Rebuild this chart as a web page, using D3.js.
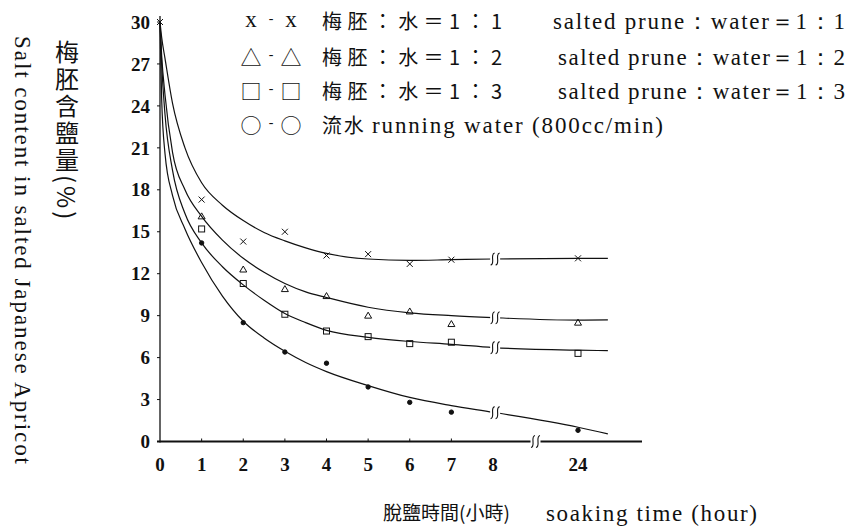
<!DOCTYPE html>
<html lang="zh-Hant">
<head>
<meta charset="utf-8">
<title>梅胚脫鹽</title>
<script src="https://cdn.jsdelivr.net/npm/d3@7"></script>
<style>
  body { margin: 0; background: #fff; }
  svg text { fill: #111; }
</style>
</head>
<body>
<script>
var SERIF = "'Liberation Serif', 'DejaVu Serif', serif"
var CJK = "'Noto Sans CJK TC', 'Noto Sans CJK SC', sans-serif"

// tick labels
var xTickHours = [0, 1, 2, 3, 4, 5, 6, 7, 8, 24]
var yTicks = [0, 3, 6, 9, 12, 15, 18, 21, 24, 27, 30]

// measured points (hours + salt %)
var markHours = [0, 1, 2, 3, 4, 5, 6, 7, 24]
var markRatio1 = [30, 17.3, 14.3, 15.0, 13.3, 13.4, 12.7, 13.0, 13.1]
var markRatio2 = [null, 16.1, 12.3, 10.9, 10.4, 9.0, 9.3, 8.4, 8.5]
var markRatio3 = [null, 15.2, 11.3, 9.1, 7.9, 7.5, 7.0, 7.1, 6.3]
var markRunning = [null, 14.2, 8.5, 6.4, 5.6, 3.9, 2.8, 2.1, 0.8]

// fitted curves
var curveHours = [0, 0.04, 0.12, 0.3, 0.6, 1, 1.5, 2, 2.5, 3, 3.5, 4, 5, 6, 7, 8, 24, 29.6]
var curveRatio1 = [30, 28.9, 27.4, 24.2, 21.0, 18.5, 16.9, 15.8, 14.95, 14.35, 13.85, 13.45, 13.05, 12.95, 13.0, 13.05, 13.1, 13.1]
var curveRatio2 = [30, 27.6, 24.8, 20.7, 18.0, 16.1, 14.4, 13.1, 12.1, 11.3, 10.7, 10.3, 9.6, 9.2, 9.0, 8.86, 8.68, 8.7]
var curveRatio3 = [30, 27.0, 23.4, 19.4, 16.3, 14.2, 12.5, 11.2, 10.1, 9.15, 8.5, 7.95, 7.45, 7.15, 6.95, 6.72, 6.53, 6.5]
var curveRunning = [30, 24.5, 20.6, 17.6, 15.2, 12.8, 10.4, 8.6, 7.4, 6.45, 5.65, 5.0, 4.0, 3.15, 2.57, 2.09, 1.02, 0.55]

var curveBreakHour = 8.4
var axisBreakHour = 16
var axisEndHour = 36

var legendZh = ["梅胚：水＝1：1", "梅胚：水＝1：2", "梅胚：水＝1：3"]
var legendRunning = ["流水 ", "running water (800cc/min)"]
var legendEn = ["salted prune：water＝1：1", "salted prune：water＝1：2", "salted prune：water＝1：3"]
var legendSym = ["x", "△", "□", "○"]

var W = 853, H = 530

// broken time axis: 0-8 h evenly spaced, then a jump to 24 h
var x = d3.scaleLinear().domain([0, 8, 24, axisEndHour]).range([160, 493, 578, 642])
var y = d3.scaleLinear().domain([0, 30]).range([441.5, 22])

var svg = d3.select("body").append("svg")
  .attr("width", W)
  .attr("height", H)

svg.append("rect").attr("width", W).attr("height", H).attr("fill", "white")

// axes
var axisG = svg.append("g")
axisG.append("line")
  .attr("x1", x(0)).attr("x2", x(0))
  .attr("y1", y(0) + 1).attr("y2", y(30) - 6)
  .attr("stroke", "#111").attr("stroke-width", 1.3)
axisG.append("line")
  .attr("x1", x(0) - 3).attr("x2", x(axisEndHour))
  .attr("y1", y(0)).attr("y2", y(0))
  .attr("stroke", "#111").attr("stroke-width", 2.2)

axisG.selectAll(".ytick").data(yTicks).enter().append("line")
  .attr("x1", x(0) - 3).attr("x2", x(0))
  .attr("y1", function(d){ return y(d) }).attr("y2", function(d){ return y(d) })
  .attr("stroke", "#111").attr("stroke-width", 1)

axisG.selectAll(".ylab").data(yTicks).enter().append("text")
  .attr("font-family", SERIF)
  .attr("x", 150)
  .attr("y", function(d){ return y(d) })
  .attr("dy", "0.35em")
  .attr("text-anchor", "end")
  .attr("font-size", 19)
  .attr("font-weight", "bold")
  .text(function(d){ return d })

axisG.selectAll(".xtick").data(xTickHours.filter(function(d){ return d > 0 && d < 8 })).enter().append("line")
  .attr("x1", function(d){ return x(d) }).attr("x2", function(d){ return x(d) })
  .attr("y1", y(0) - 3).attr("y2", y(0))
  .attr("stroke", "#111").attr("stroke-width", 1)

axisG.selectAll(".xlab").data(xTickHours).enter().append("text")
  .attr("font-family", SERIF)
  .attr("x", function(d){ return x(d) })
  .attr("y", 471)
  .attr("text-anchor", "middle")
  .attr("font-size", 19)
  .attr("font-weight", "bold")
  .text(function(d){ return d })

// curves
var line = d3.line()
  .x(function(d){ return x(d[0]) })
  .y(function(d){ return y(d[1]) })
  .curve(d3.curveMonotoneX)

var curves = [curveRatio1, curveRatio2, curveRatio3, curveRunning]
svg.append("g").selectAll("path").data(curves).enter().append("path")
  .attr("d", function(vals){ return line(curveHours.map(function(h, i){ return [h, vals[i]] })) })
  .attr("fill", "none")
  .attr("stroke", "#111")
  .attr("stroke-width", 1.2)

// little "ʃʃ" break marks
function breakMark(g, cx, cy) {
  g.append("rect").attr("x", cx - 5).attr("y", cy - 4).attr("width", 10).attr("height", 8).attr("fill", "white")
  ;[-2.5, 2.5].forEach(function(off){
    var px = cx + off
    g.append("path")
      .attr("d", "M" + (px + 2) + "," + (cy - 6) + " C" + (px - 3) + "," + (cy - 5) + " " + (px + 3) + "," + (cy + 5) + " " + (px - 2) + "," + (cy + 6))
      .attr("fill", "none").attr("stroke", "#111").attr("stroke-width", 1.1)
  })
}
var breaks = svg.append("g")
curves.forEach(function(vals){
  var v = d3.scaleLinear().domain(curveHours).range(vals)(curveBreakHour)
  breakMark(breaks, x(curveBreakHour), y(v))
})
breakMark(breaks, x(axisBreakHour), y(0))

// markers
var mg = svg.append("g").attr("fill", "none").attr("stroke", "#111").attr("stroke-width", 1)
function pts(vals){
  return markHours.map(function(h, i){ return [h, vals[i]] }).filter(function(d){ return d[1] != null })
}
mg.selectAll(".mx").data(pts(markRatio1)).enter().append("path")
  .attr("d", function(d){
    var cx = x(d[0]), cy = y(d[1])
    return "M" + (cx - 3) + "," + (cy - 3) + "L" + (cx + 3) + "," + (cy + 3) + "M" + (cx + 3) + "," + (cy - 3) + "L" + (cx - 3) + "," + (cy + 3)
  })
mg.selectAll(".mt").data(pts(markRatio2)).enter().append("path")
  .attr("d", function(d){
    var cx = x(d[0]), cy = y(d[1])
    return "M" + cx + "," + (cy - 3.5) + "L" + (cx + 3.5) + "," + (cy + 2.5) + "L" + (cx - 3.5) + "," + (cy + 2.5) + "Z"
  })
mg.selectAll(".ms").data(pts(markRatio3)).enter().append("rect")
  .attr("x", function(d){ return x(d[0]) - 3 })
  .attr("y", function(d){ return y(d[1]) - 3 })
  .attr("width", 6).attr("height", 6)
mg.selectAll(".mc").data(pts(markRunning)).enter().append("circle")
  .attr("cx", function(d){ return x(d[0]) })
  .attr("cy", function(d){ return y(d[1]) })
  .attr("r", 2.2)
  .attr("fill", "#111")

// legend
var rowY = [29, 65, 99, 133]
var lg = svg.append("g")
legendSym.forEach(function(s, i){
  var f = i == 0 ? SERIF : CJK
  var fs = i == 0 ? 23 : 21
  lg.append("text").attr("font-family", f).attr("x", 251).attr("y", rowY[i] - (i == 0 ? 2 : 0))
    .attr("text-anchor", "middle").attr("font-size", fs).text(s)
  lg.append("text").attr("font-family", SERIF).attr("x", 271).attr("y", rowY[i] - 6)
    .attr("text-anchor", "middle").attr("font-size", 14).text("-")
  lg.append("text").attr("font-family", f).attr("x", 291).attr("y", rowY[i] - (i == 0 ? 2 : 0))
    .attr("text-anchor", "middle").attr("font-size", fs).text(s)
})
legendZh.forEach(function(t, i){
  lg.append("text").attr("font-family", CJK).attr("x", 322).attr("y", rowY[i])
    .attr("font-size", 20).attr("textLength", 180).attr("lengthAdjust", "spacing").text(t)
})
var runTx = lg.append("text").attr("x", 322).attr("y", rowY[3])
  .attr("textLength", 341).attr("lengthAdjust", "spacing")
runTx.append("tspan").attr("font-family", CJK).attr("font-size", 20).text(legendRunning[0])
runTx.append("tspan").attr("font-family", SERIF).attr("font-size", 23).text(legendRunning[1])

legendEn.forEach(function(t, i){
  lg.append("text").attr("font-family", SERIF).attr("x", i == 0 ? 553 : 558).attr("y", rowY[i])
    .attr("font-size", 23).attr("textLength", i == 0 ? 292 : 287).attr("lengthAdjust", "spacing").text(t)
})

// axis titles
svg.append("text").attr("font-family", CJK)
  .attr("x", 67).attr("y", 40)
  .attr("font-size", 24)
  .attr("letter-spacing", 3)
  .style("writing-mode", "vertical-rl")
  .text("梅胚含鹽量(%)")
svg.append("text").attr("font-family", SERIF)
  .attr("transform", "translate(15,36) rotate(90)")
  .attr("font-size", 23)
  .attr("textLength", 428).attr("lengthAdjust", "spacing")
  .text("Salt content in salted Japanese Apricot")

svg.append("text").attr("font-family", CJK)
  .attr("x", 383).attr("y", 520)
  .attr("font-size", 19)
  .text("脫鹽時間(小時)")
svg.append("text").attr("font-family", SERIF)
  .attr("x", 546).attr("y", 521)
  .attr("font-size", 23)
  .attr("textLength", 211).attr("lengthAdjust", "spacing")
  .text("soaking time (hour)")
</script>
</body>
</html>
